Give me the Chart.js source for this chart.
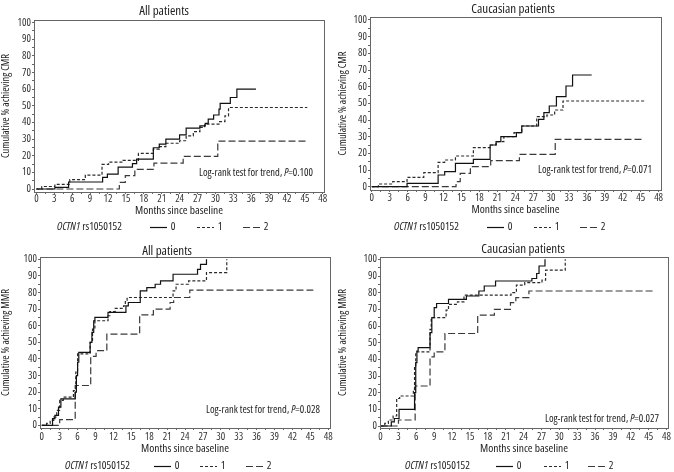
<!DOCTYPE html>
<html>
<head>
<meta charset="utf-8">
<script src="https://cdn.jsdelivr.net/npm/chart.js@4.4.1/dist/chart.umd.min.js"></script>
<style>
  body { margin: 0; background: #fff; }
  #wrap { position: relative; width: 674px; height: 472px; }
  canvas { position: absolute; }
</style>
</head>
<body>
<div id="wrap">
  <canvas id="c1" width="337" height="236" style="left:0;top:0"></canvas>
  <canvas id="c2" width="337" height="236" style="left:337px;top:0"></canvas>
  <canvas id="c3" width="337" height="236" style="left:0;top:236px"></canvas>
  <canvas id="c4" width="337" height="236" style="left:337px;top:236px"></canvas>
</div>
<script>
// [months since baseline, cumulative %] for each genotype group
const cmrAll0 = [[0,0],[3.1,1],[5.4,4.2],[11.1,7],[11.9,9],[13.7,13.2],[16.1,15.2],[16.8,18],[19.6,24.8],[20.6,27],[21.7,30],[24,32.6],[25.1,36.6],[27.4,38],[28.3,39.5],[28.8,42],[29.7,44.5],[30.6,48],[30.8,51.5],[32.5,55],[33.6,60],[36.8,60]];
const cmrAll1 = [[0,0],[0.9,1.5],[3.1,2.8],[5.6,5.6],[8.2,8.4],[11.0,14.8],[12.1,16.2],[14.5,17.2],[17.1,21.4],[19.6,24],[20.6,25.5],[21.7,27.5],[24.0,29],[25.1,32],[26.3,34.5],[27.4,37],[28.2,39],[30.6,40.5],[31.6,44],[32.2,49],[45.4,49]];
const cmrAll2 = [[0,0],[13.9,4],[14.9,8],[16.5,11.8],[19.7,15.6],[24.6,19.6],[30.4,28.8],[45.4,28.8]];

const cmrCau0 = [[0,0],[5.9,2],[11.1,7],[12.2,9],[14,14],[17,16.4],[19.8,25],[20.8,27],[21.6,30],[24.2,32.4],[25.1,36.4],[27.9,40.4],[28.8,44.4],[29.7,48.4],[30.9,54],[32.5,60.4],[33.6,67],[36.8,67]];
const cmrCau1 = [[0,0],[1.1,1.6],[3.5,3],[5.9,5.6],[8.7,8.4],[11.1,14.6],[12.2,16],[14,18.4],[17,23.4],[19.8,25],[20.8,27],[22.1,30],[23.8,32.4],[25.1,36.4],[27.6,42],[29.3,43],[30.6,46],[32,51.4],[45.6,51.4]];
const cmrCau2 = [[0,0],[14.1,3],[14.8,8],[16.5,12],[19.9,15.6],[24.7,19.4],[30.7,28.4],[45.5,28.4]];

const mmrAll0 = [[0,0],[1.8,4],[2.2,6],[2.8,11],[3.2,16],[5.6,20],[5.8,30],[6.0,38],[6.2,44],[8.1,50],[8.4,56],[8.7,63],[8.9,65],[11.1,68],[14.1,72],[14.5,74],[16.5,81],[17.6,83],[19,85],[19.9,87],[22,91],[26.1,94],[26.6,97],[27.6,100]];
const mmrAll1 = [[0,0],[0.8,1.2],[1.4,3],[2,5],[2.5,9],[3,15],[3.6,17],[5.3,21],[5.7,32],[6.0,43],[8.1,50],[8.5,58],[8.9,63],[11.1,66],[11.4,68.5],[12.3,70.5],[13.7,72],[14.0,74.5],[14.3,77],[22.0,81],[22.5,85],[24.6,87],[27.6,92],[31.0,100]];
const mmrAll2 = [[0,0],[3.0,3.5],[5.6,24],[8.2,41.5],[9.1,45],[10.9,55],[16.4,66.5],[18.7,70],[21.5,74],[22.1,77],[24.8,81.5],[45.5,81.5]];

const mmrCau0 = [[0,0],[1.8,2.5],[2.3,4.5],[3.1,10],[5.7,20],[5.9,38],[6.1,45],[6.3,47],[8.3,56],[8.6,65],[9.0,71],[9.4,73.5],[11.4,76],[14.4,78],[16.5,81],[17.4,84],[19.3,87],[25.4,88.5],[26.2,91.5],[26.6,96],[27.6,100]];
const mmrCau1 = [[0,0],[0.7,1.6],[1.3,3.6],[2.1,6],[2.7,16.5],[3.2,18],[5.5,22],[5.7,36],[5.9,44.5],[8.3,58],[8.5,65],[11.0,69.5],[11.4,73],[12.9,74.5],[14.0,78.5],[21.9,80],[22.8,84.5],[24.2,86],[27.1,87.5],[27.7,93.5],[31.0,100]];
const mmrCau2 = [[0,0],[3.0,3.6],[5.8,24],[8.3,41.5],[9.0,44.5],[10.8,55.5],[16.3,66.5],[19.1,70],[21.8,74],[22.7,77],[24.9,81],[45.7,81]];

const groups = ['0', '1', '2'];
const monthTicks = [0,3,6,9,12,15,18,21,24,27,30,33,36,39,42,45,48];
const pctTicks = [0,10,20,30,40,50,60,70,80,90,100];
const titles = ['All patients', 'Caucasian patients', 'All patients', 'Caucasian patients'];
const yTitles = ['Cumulative % achieving CMR', 'Cumulative % achieving CMR', 'Cumulative % achieving MMR', 'Cumulative % achieving MMR'];
const pValues = ['0.100', '0.071', '0.028', '0.027'];

// condensed Open Sans stands in for the narrow grotesque of the original
const FAM = "'Open Sans', sans-serif";
const f = (size, italic) => (italic ? 'italic ' : '') + 'condensed ' + size + 'px ' + FAM;
const lineColors = ['#111111', '#2a2a2a', '#3a3a3a'];
const lineDashes = [[], [3, 2], [7, 3]];

const panels = [
  { id: 'c1', series: [cmrAll0, cmrAll1, cmrAll2], box: {l: 34, r: 324, t: 20, b: 192}, x: [-0.4, 48.2], y: [-1.8, 101.6],
    axisH: 26, tickPad: 0, titleXY: [164, 11], pXY: [313, 173], legX: 57, legLab: [173, 220, 266], legY: 227 },
  { id: 'c2', series: [cmrCau0, cmrCau1, cmrCau2], box: {l: 33, r: 324, t: 17, b: 190}, x: [-0.3, 48.4], y: [-2.0, 101.8],
    axisH: 27, tickPad: 1, titleXY: [176, 9], pXY: [315, 170], legX: 57, legLab: [173, 220, 266], legY: 227 },
  { id: 'c3', series: [mmrAll0, mmrAll1, mmrAll2], box: {l: 40, r: 330, t: 21, b: 192}, x: [-0.3, 48.3], y: [-1.6, 101.4],
    axisH: 28, tickPad: 2, titleXY: [167, 15], pXY: [320, 174], legX: 65, legLab: [177, 223, 269], legY: 230 },
  { id: 'c4', series: [mmrCau0, mmrCau1, mmrCau2], box: {l: 43, r: 331, t: 21, b: 192}, x: [-0.1, 48.25], y: [-1.2, 101.4],
    axisH: 28, tickPad: 2, titleXY: [186, 13], pXY: [322, 183], legX: 68, legLab: [182, 230, 274], legY: 230 }
];

// minor ticks halfway between labelled ones
const withMinor = t => t.flatMap((v, i) => i < t.length - 1 ? [v, (v + t[i + 1]) / 2] : [v]);

// box, title, log-rank note and the genotype legend
const panelDecor = {
  id: 'panelDecor',
  afterDraw(chart, args, opts) {
    const ctx = chart.ctx, a = chart.chartArea;
    ctx.save();
    ctx.strokeStyle = '#666';
    ctx.lineWidth = 1;
    ctx.strokeRect(Math.round(a.left) + 0.5, Math.round(a.top) + 0.5, Math.round(a.right - a.left), Math.round(a.bottom - a.top));

    ctx.fillStyle = '#222';
    ctx.textBaseline = 'middle';
    ctx.textAlign = 'center';
    ctx.font = f(13);
    ctx.fillText(opts.title, opts.titleXY[0], opts.titleXY[1]);

    ctx.textAlign = 'left';
    const lead = 'Log-rank test for trend, ';
    const rest = '=' + opts.p;
    ctx.font = f(10.5, true);
    const wP = ctx.measureText('P').width;
    ctx.font = f(10.5);
    const wLead = ctx.measureText(lead).width, wRest = ctx.measureText(rest).width;
    const x = opts.pXY[0] - wLead - wP - wRest;
    ctx.fillText(lead, x, opts.pXY[1]);
    ctx.font = f(10.5, true);
    ctx.fillText('P', x + wLead, opts.pXY[1]);
    ctx.font = f(10.5);
    ctx.fillText(rest, x + wLead + wP, opts.pXY[1]);

    const ly = opts.legY;
    ctx.font = f(11, true);
    ctx.fillText('OCTN1', opts.legX, ly);
    const w1 = ctx.measureText('OCTN1').width;
    ctx.font = f(11);
    ctx.fillText(' rs1050152', opts.legX + w1, ly);
    ctx.textAlign = 'center';
    chart.data.datasets.forEach((ds, i) => {
      const lx = opts.legLab[i];
      ctx.beginPath();
      ctx.strokeStyle = ds.borderColor;
      ctx.lineWidth = ds.borderWidth;
      ctx.setLineDash(ds.borderDash);
      ctx.moveTo(lx - 23, ly + 0.5);
      ctx.lineTo(lx - 6, ly + 0.5);
      ctx.stroke();
      ctx.setLineDash([]);
      ctx.fillText(ds.label, lx, ly);
    });
    ctx.restore();
  }
};

panels.forEach((pn, k) => {
  const tickFont = { family: FAM, size: 10.5, weight: 'condensed', lineHeight: 1 };
  new Chart(document.getElementById(pn.id), {
    type: 'line',
    data: {
      datasets: pn.series.map((s, i) => ({
        label: groups[i],
        data: s.map(p => ({ x: p[0], y: p[1] })),
        stepped: true,
        borderColor: lineColors[i],
        borderDash: lineDashes[i],
        borderWidth: 1.2,
        pointRadius: 0,
        fill: false
      }))
    },
    options: {
      responsive: false,
      animation: false,
      layout: { padding: { left: 0, top: pn.box.t, right: 337 - pn.box.r, bottom: 236 - pn.box.b - pn.axisH } },
      plugins: {
        legend: { display: false },
        tooltip: { enabled: false },
        panelDecor: { title: titles[k], titleXY: pn.titleXY, p: pValues[k], pXY: pn.pXY,
                      legX: pn.legX, legLab: pn.legLab, legY: pn.legY }
      },
      scales: {
        x: {
          type: 'linear', min: pn.x[0], max: pn.x[1],
          afterFit: s => { s.height = pn.axisH; },
          afterBuildTicks: s => { s.ticks = withMinor(monthTicks).map(v => ({ value: v })); },
          ticks: { font: tickFont, color: '#333', padding: pn.tickPad, maxRotation: 0, autoSkip: false,
                   callback: v => monthTicks.includes(v) ? String(v) : '' },
          grid: { drawOnChartArea: false, tickLength: 2, color: '#666' },
          border: { color: '#666' },
          title: { display: true, text: 'Months since baseline', color: '#222',
                   font: { family: FAM, size: 11.5, weight: 'condensed' }, padding: { top: 0, bottom: 0 } }
        },
        y: {
          type: 'linear', min: pn.y[0], max: pn.y[1],
          afterFit: s => { s.width = pn.box.l; },
          afterBuildTicks: s => { s.ticks = withMinor(pctTicks).map(v => ({ value: v })); },
          ticks: { font: tickFont, color: '#333', padding: 1, autoSkip: false,
                   callback: v => pctTicks.includes(v) ? String(v) : '' },
          grid: { drawOnChartArea: false, tickLength: 2, color: '#666' },
          border: { color: '#666' },
          title: { display: true, text: yTitles[k], color: '#222',
                   font: { family: FAM, size: 10.5, weight: 'condensed' }, padding: { top: 0, bottom: 0 } }
        }
      }
    },
    plugins: [panelDecor]
  });
});
</script>
</body>
</html>
